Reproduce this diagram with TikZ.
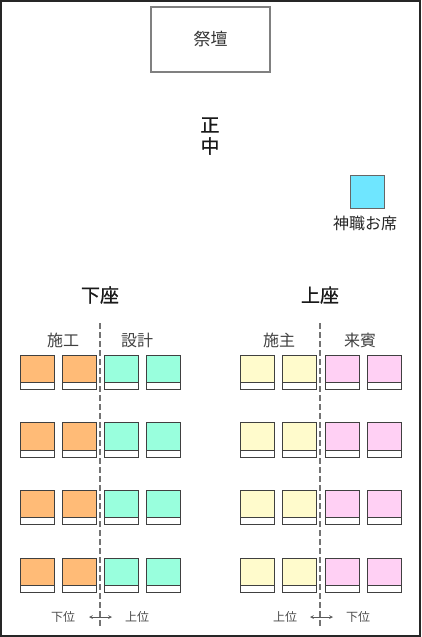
\documentclass[tikz,border=0pt]{standalone}
\usepackage{fontspec}
\setmainfont{Noto Sans CJK JP}
\newfontfamily\headfont[FakeBold=0.5]{Noto Sans CJK JP}
\begin{document}
\begin{tikzpicture}[x=1pt,y=-1pt,
  seatc/.style={draw=black!75,line width=0.8pt},
  lbl/.style={inner sep=0pt,text=black!85},
  head/.style={inner sep=0pt,text=black!90,font=\headfont\fontsize{19}{19}\selectfont},
  small/.style={inner sep=0pt,text=black!70,font=\fontsize{12}{12}\selectfont},
  divider/.style={draw=black!55,line width=1.3pt,dash pattern=on 6pt off 3pt}]
\definecolor{cyanseat}{HTML}{6FE6FF}
\definecolor{orangeseat}{HTML}{FFBB77}
\definecolor{mintseat}{HTML}{99FFDD}
\definecolor{yellowseat}{HTML}{FFFBCC}
\definecolor{pinkseat}{HTML}{FFD0F4}
\useasboundingbox (0,0) rectangle (421,637);
\draw[line width=1.2pt,draw=black!85] (1,1) rectangle (420,636);
% altar
\node[draw=black!50,line width=1.2pt,minimum width=119pt,minimum height=65pt,inner sep=0pt,font=\fontsize{17}{17}\selectfont,text=black!80] (altar) at (210.5,39.5) {祭壇};
\node[head] (sho) at (210,125) {正};
\node[head] (chu) at (210,146) {中};
% priest seat
\node[draw=black!60,line width=1pt,fill=cyanseat,minimum width=34pt,minimum height=33pt,inner sep=0pt] (priest) at (367,191.5) {};
\node[lbl,font=\fontsize{16}{16}\selectfont] (priestlbl) at (365,223) {神職お席};
% section headings
\node[head] (shimoza) at (100,295) {下座};
\node[head] (kamiza) at (320,295) {上座};
\node[lbl,font=\fontsize{16}{16}\selectfont,text=black!75] (seko) at (63,340) {施工};
\node[lbl,font=\fontsize{16}{16}\selectfont,text=black!75] (sekkei) at (137,340) {設計};
\node[lbl,font=\fontsize{16}{16}\selectfont,text=black!75] (seshu) at (279,340) {施主};
\node[lbl,font=\fontsize{16}{16}\selectfont,text=black!75] (raihin) at (360,340) {来賓};
% dividers
\coordinate (dl1) at (100,323); \coordinate (dl2) at (100,628);
\coordinate (dr1) at (320,323); \coordinate (dr2) at (320,628);
\draw[divider] (dl1) -- (dl2);
\draw[divider] (dr1) -- (dr2);
% seats
\foreach \ry [count=\r] in {355,422.7,490.3,558}{
  \foreach \sx/\col [count=\c] in {20/orangeseat,62/orangeseat,104/mintseat,146/mintseat,240/yellowseat,282/yellowseat,325/pinkseat,367/pinkseat}{
    \fill[\col] (\sx,\ry) rectangle ++(34.5,27.3);
    \fill[white] (\sx,\ry+27.3) rectangle ++(34.5,7);
    \draw[seatc] (\sx,\ry) rectangle ++(34.5,34.3);
    \draw[seatc] (\sx,\ry+27.3) -- ++(34.5,0);
  }
}
% bottom labels
\node[small] (l1) at (63,617) {下位};
\node[small] (l2) at (137,617) {上位};
\node[small] (r1) at (285,617) {上位};
\node[small] (r2) at (358,617) {下位};
\coordinate (al1) at (89,617); \coordinate (al2) at (112,617);
\coordinate (ar1) at (310,617); \coordinate (ar2) at (333,617);
\draw[black!65,line width=0.7pt,<->,>=stealth] (al1) -- (al2);
\draw[black!65,line width=0.7pt,<->,>=stealth] (ar1) -- (ar2);
\end{tikzpicture}
\end{document}
